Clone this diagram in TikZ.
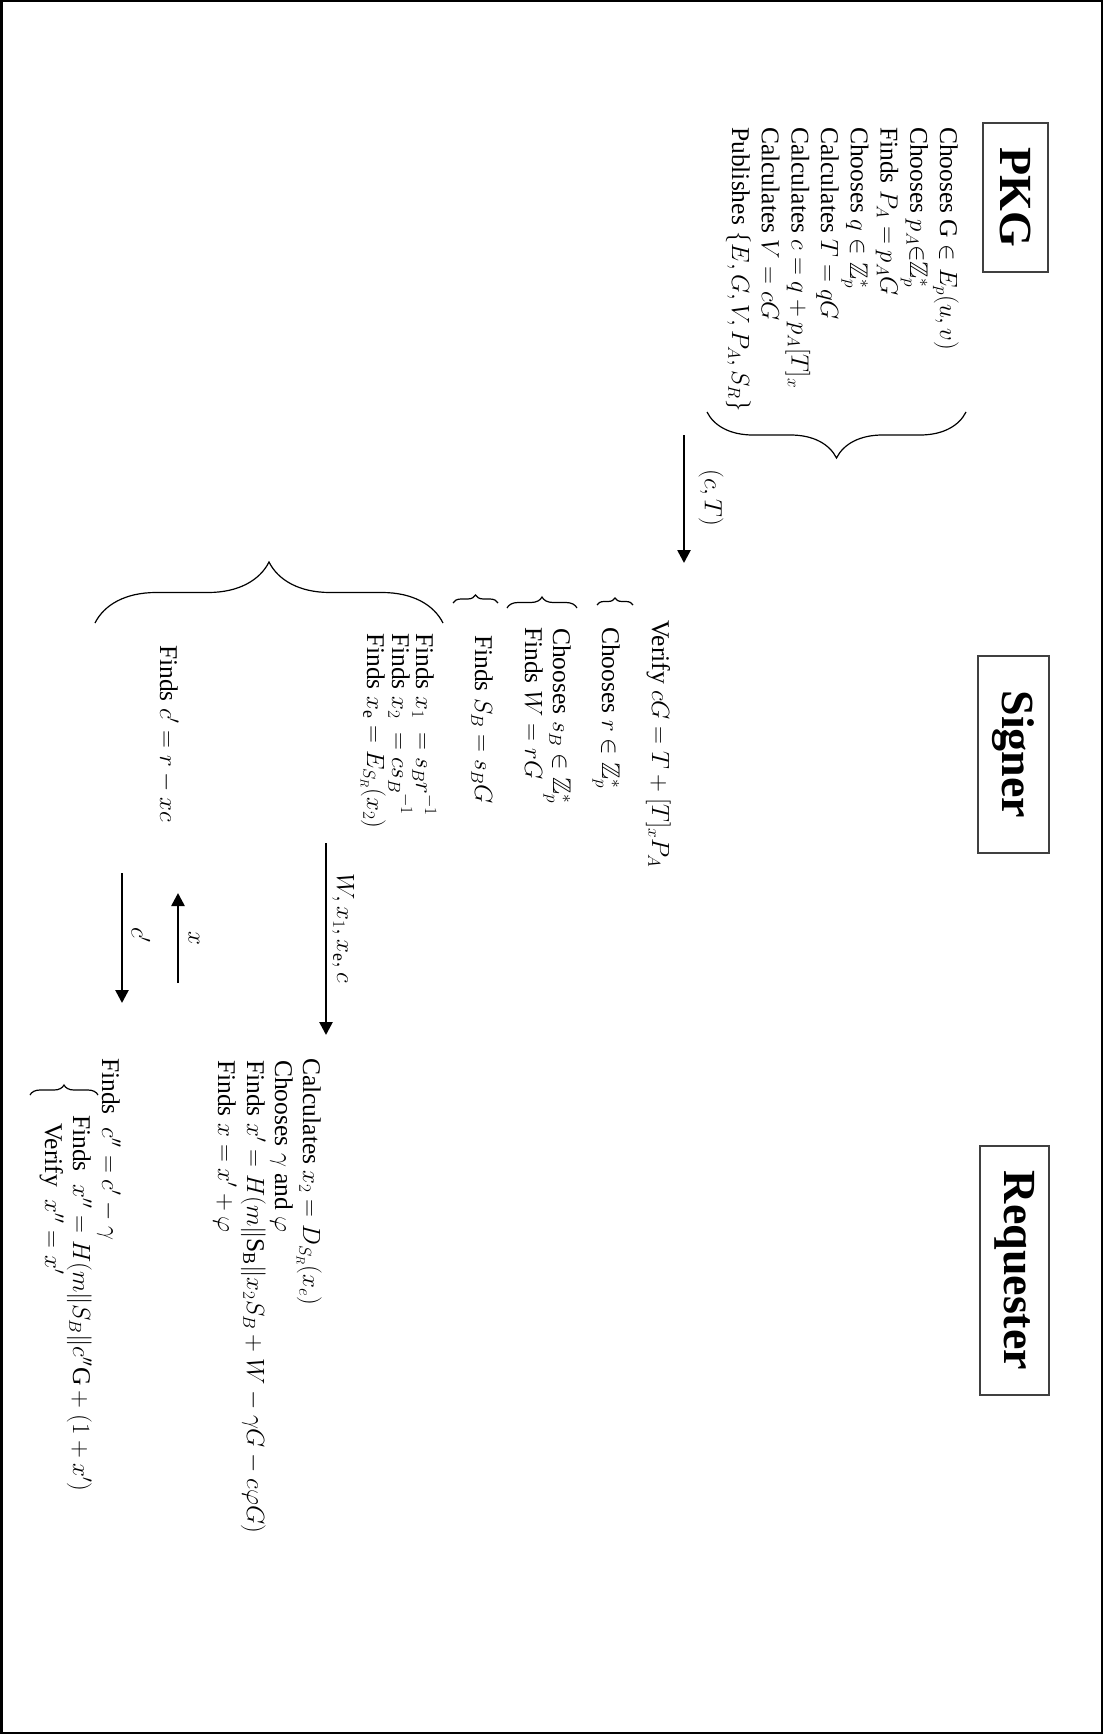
\documentclass[tikz,border=0pt]{standalone}
\usepackage{amsmath,amssymb}
\usepackage{fontspec}
\setmainfont{Liberation Serif}
\usetikzlibrary{arrows.meta,decorations.pathreplacing}

\newcommand\bodysize{\fontsize{25.5}{29.7}\selectfont}
\newcommand\headsize{\fontsize{46}{50}\selectfont\bfseries}

\begin{document}
\begin{tikzpicture}[x=1pt,y=-1pt,
  party/.style={draw=black!75, line width=1.2pt, rotate=-90, inner sep=0,
                font=\headsize},
  txt/.style={rotate=-90, anchor=base west, inner sep=0, font=\bodysize},
  lbl/.style={rotate=-90, inner sep=0, font=\bodysize},
  msg/.style={line width=2.6pt, -{Triangle[length=13pt,width=13pt]}},
  grp/.style={line width=1.2pt, decorate,
              decoration={brace, amplitude=#1}}]

\useasboundingbox (0,0) rectangle (1103,1734);
\draw[line width=2.5pt] (1.25,1.25) rectangle (1101.75,1732.75);

% ---- parties
\node[party, minimum width=149, minimum height=65] (pkg) at (1015.5,197.5) {PKG};
\node[party, minimum width=197, minimum height=71] (signer) at (1013.5,754.5) {Signer};
\node[party, minimum width=249, minimum height=69] (req) at (1014.5,1270.5) {Requester};

% ---- PKG set-up
\node[txt] (p1) at (940,127) {Chooses G $\in E_p(u,v)$};
\node[txt] (p2) at (910.3,127) {Chooses $p_A{\in}\mathbb{Z}_p^*$};
\node[txt] (p3) at (880.6,127) {Finds $P_A = p_A G$};
\node[txt] (p4) at (850.9,127) {Chooses $q \in \mathbb{Z}_p^*$};
\node[txt] (p5) at (821.2,127) {Calculates $T = qG$};
\node[txt] (p6) at (791.5,127) {Calculates $c = q + p_A[T]_x$};
\node[txt] (p7) at (761.8,127) {Calculates $V = cG$};
\node[txt] (p8) at (732.1,127) {Publishes $\{E, G, V, P_A, S_R\}$};
\draw[grp=46] (966,412) -- (707,412);

% ---- PKG -> Signer
\coordinate (ctA) at (684,435);
\coordinate (ctB) at (684,563);
\draw[msg] (ctA) -- (ctB);
\node[lbl] (ctl) at (711,498) {$(c, T)$};

% ---- Signer
\node[txt] (s0) at (652,620) {Verify $cG = T + [T]_x P_A$};
\draw[grp=7] (597,605) -- (633,605);
\node[txt] (s1) at (602,627) {Chooses $r \in \mathbb{Z}_p^*$};
\draw[grp=11] (507,608) -- (577,608);
\node[txt] (s2) at (553,628) {Chooses $s_B \in \mathbb{Z}_p^*$};
\node[txt] (s3) at (525,627) {Finds $W = rG$};
\draw[grp=8] (453,603) -- (498,603);
\node[txt] (s4) at (475,635) {Finds $S_B = s_B G$};
\draw[grp=61] (95,623) -- (443,623);
\node[txt] (s5) at (416,633) {Finds $x_1\; = s_B r^{-1}$};
\node[txt] (s6) at (392,633) {Finds $x_2\; = c{s_B}^{-1}$};
\node[txt] (s7) at (367,633) {Finds $x_\mathrm{e} = E_{S_R}(x_2)$};
\node[txt] (s8) at (160,645) {Finds $c' = r - xc$};

% ---- Signer <-> Requester
\coordinate (wA) at (326,843);
\coordinate (wB) at (326,1035);
\draw[msg] (wA) -- (wB);
\node[txt] (wl) at (337,873) {$W, x_1, x_\mathrm{e}, c$};

\coordinate (xA) at (178,983);
\coordinate (xB) at (178,893);
\draw[msg] (xA) -- (xB);
\node[lbl] (xl) at (194,938) {$x$};

\coordinate (cA) at (122,873);
\coordinate (cB) at (122,1003);
\draw[msg] (cA) -- (cB);
\node[lbl] (cl) at (141,935) {$c'$};

% ---- Requester
\node[txt] (r1) at (303,1058) {Calculates $x_2 = D_{S_R}(x_e)$};
\node[txt] (r2) at (275,1060) {Chooses $\gamma$ and $\varphi$};
\node[txt] (r3) at (247,1060) {Finds $x' = H(m\|\mathrm{S_B}\|x_2 S_B + W - \gamma G - c\varphi G)$};
\node[txt] (r4) at (218,1060) {Finds $x = x' + \varphi$};
\node[txt] (r5) at (102,1058) {Finds~ $c'' = c' - \gamma$};
\draw[grp=10] (30,1095) -- (98,1095);
\node[txt] (r6) at (73,1115) {Finds~ $x'' = H(m\|S_B\|c''\mathrm{G} + (1 + x')$};
\node[txt] (r7) at (45,1123) {Verify~ $x'' = x'$};
\end{tikzpicture}
\end{document}
